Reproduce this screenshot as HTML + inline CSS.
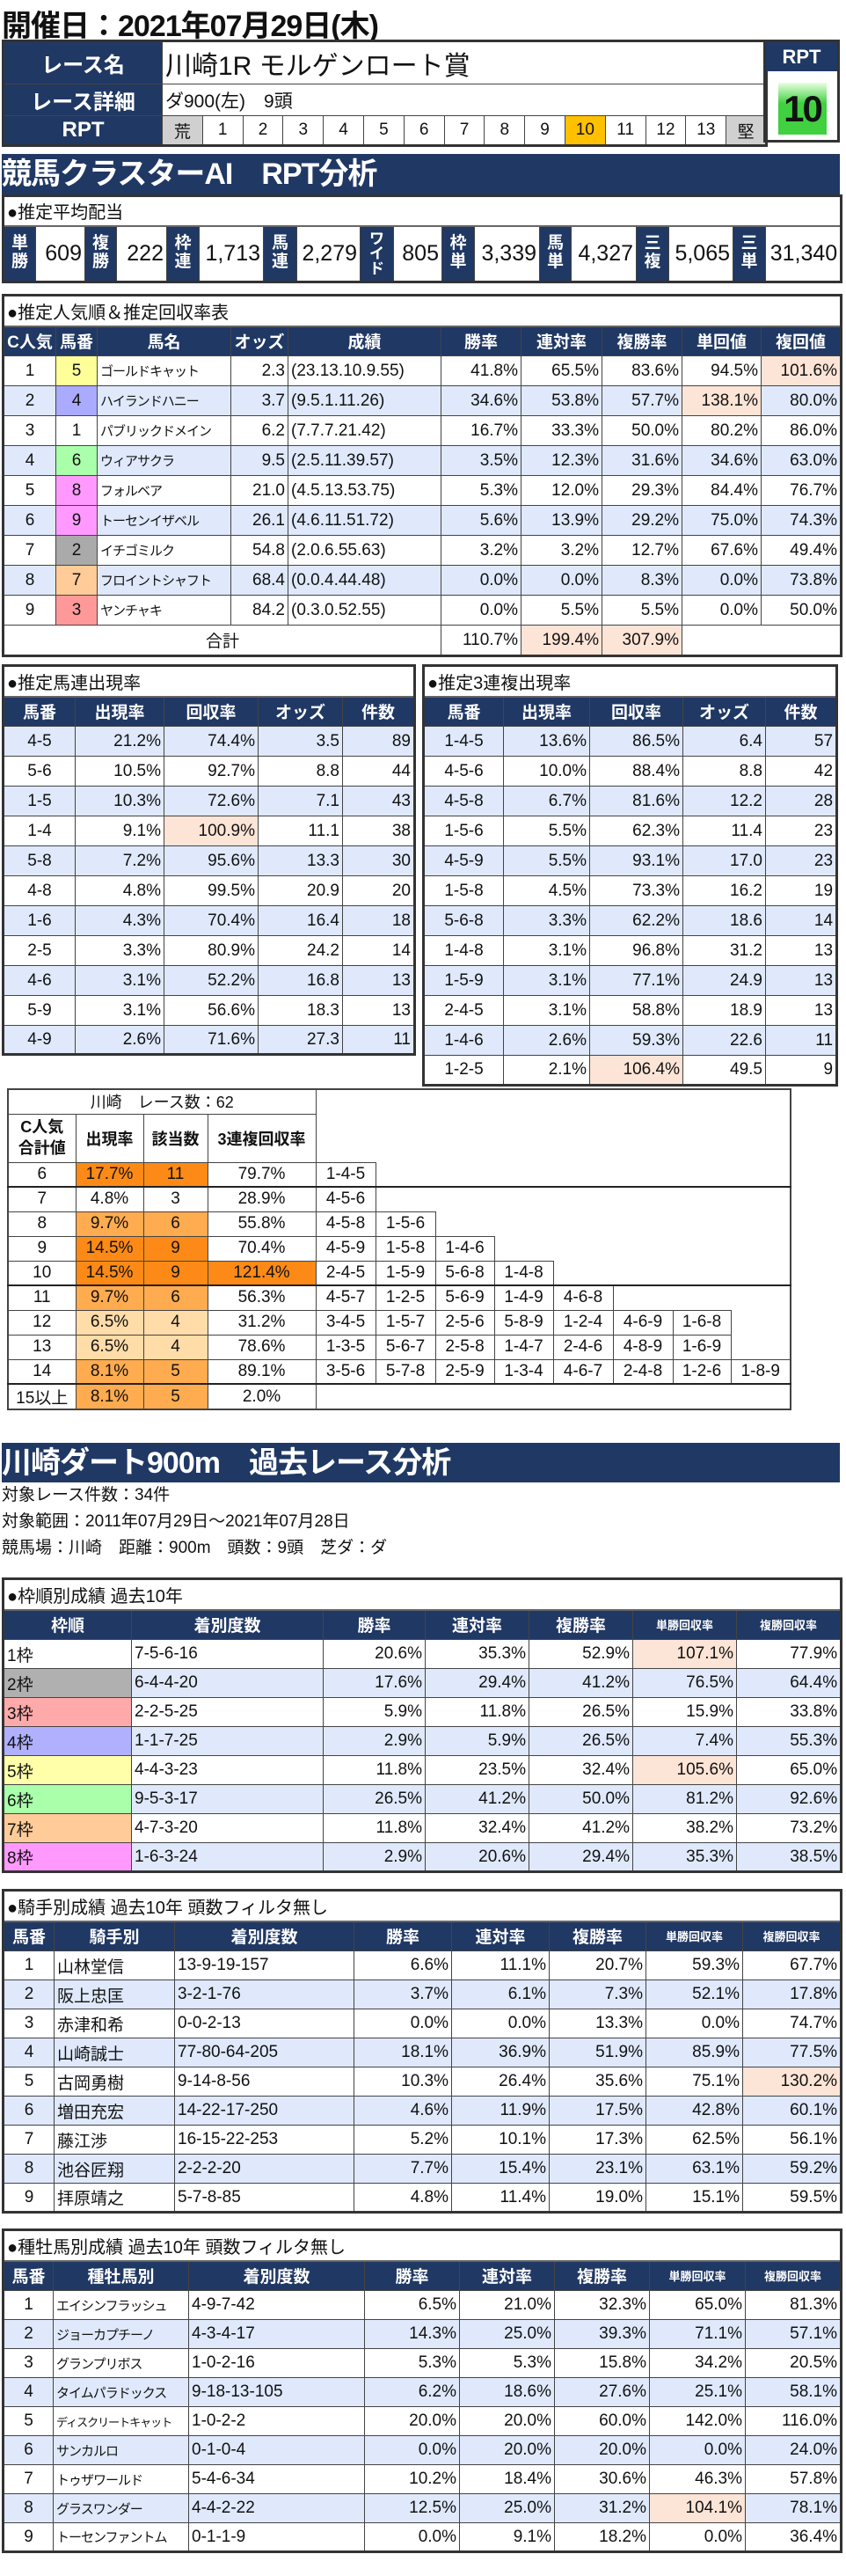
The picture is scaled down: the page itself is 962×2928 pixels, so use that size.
<!DOCTYPE html>
<html><head><meta charset="utf-8">
<style>
body{margin:0;width:962px;height:2928px;position:relative;background:#fff;font-family:"Liberation Sans","Noto Sans CJK JP",sans-serif;color:#111;overflow:hidden}
.a{position:absolute}
table{border-collapse:collapse;table-layout:fixed;position:absolute}
td,th{border:1px solid #444;padding:0 3px;white-space:nowrap;overflow:hidden;font-size:19px;font-weight:normal}
th{background:#203864;color:#fff;font-weight:bold;text-align:center}
.r{text-align:right}.c{text-align:center}.l{text-align:left}
.b td{background:#dfe9fb}
td.pk,.b td.pk{background:#fce4d6}
.t td{font-size:20px;text-align:left;background:#fff;border-bottom:2px solid #666}
.out{border:3px solid #333}
.sec{background:#203864;color:#fff;font-weight:bold;font-size:34px;left:2px;width:953px;line-height:46px;letter-spacing:-1px}
.sm{font-size:13px!important}
.nm{font-size:15px;letter-spacing:-1px}
td.o1{background:#fd8a16}td.o2{background:#ffab4f}td.o3{background:#ffdca8}
.cl td.e{border:none}
</style></head><body>
<div class="a" style="left:2px;top:2px;font-size:34px;font-weight:bold;letter-spacing:-1px">開催日：2021年07月29日(木)</div>

<table class="out" style="left:2px;top:45px;width:868px">
<colgroup><col style="width:181px"><col span="15" style="width:45.8px"></colgroup>
<tr style="height:49px"><th style="font-size:24px">レース名</th><td colspan="15" style="font-size:30px">川崎1R モルゲンロート賞</td></tr>
<tr style="height:34px"><th style="font-size:24px">レース詳細</th><td colspan="15" style="font-size:21px">ダ900(左)　9頭</td></tr>
<tr style="height:34px"><th style="font-size:24px">RPT</th><td class="c" style="background:#d0d0d0">荒</td><td class="c">1</td><td class="c">2</td><td class="c">3</td><td class="c">4</td><td class="c">5</td><td class="c">6</td><td class="c">7</td><td class="c">8</td><td class="c">9</td><td class="c" style="background:#ffc000">10</td><td class="c">11</td><td class="c">12</td><td class="c">13</td><td class="c" style="background:#d0d0d0">堅</td></tr>
</table>
<div class="a" style="left:868px;top:45px;width:87px;height:117px;border:3px solid #333;box-sizing:border-box">
<div style="background:#203864;color:#fff;font-weight:bold;font-size:22px;text-align:center;height:33px;line-height:33px">RPT</div>
<div class="a" style="left:14px;top:46px;width:55px;height:59px;background:linear-gradient(#e8ffe0,#40d040 40%,#40d040);font-weight:bold;font-size:42px;text-align:center;line-height:60px;letter-spacing:-2px">10</div>
</div>

<div class="a sec" style="top:175px;height:46px">競馬クラスターAI　RPT分析</div>

<table class="out" style="left:2px;top:221px;width:953px">
<colgroup><col style="width:37px"><col style="width:56px"><col style="width:36px"><col style="width:57px"><col style="width:37px"><col style="width:73px"><col style="width:38px"><col style="width:72px"><col style="width:38px"><col style="width:55px"><col style="width:37px"><col style="width:74px"><col style="width:36px"><col style="width:74px"><col style="width:37px"><col style="width:73px"><col style="width:37px"><col style="width:86px"></colgroup>
<tr class="t" style="height:34px"><td colspan="18">●推定平均配当</td></tr>
<tr style="height:64px">
<th style="line-height:1.1;font-size:19px">単<br>勝</th><td class="r" style="font-size:25px">609</td>
<th style="line-height:1.1;font-size:19px">複<br>勝</th><td class="r" style="font-size:25px">222</td>
<th style="line-height:1.1;font-size:19px">枠<br>連</th><td class="r" style="font-size:25px">1,713</td>
<th style="line-height:1.1;font-size:19px">馬<br>連</th><td class="r" style="font-size:25px">2,279</td>
<th style="line-height:1;font-size:17px">ワ<br>イ<br>ド</th><td class="r" style="font-size:25px">805</td>
<th style="line-height:1.1;font-size:19px">枠<br>単</th><td class="r" style="font-size:25px">3,339</td>
<th style="line-height:1.1;font-size:19px">馬<br>単</th><td class="r" style="font-size:25px">4,327</td>
<th style="line-height:1.1;font-size:19px">三<br>複</th><td class="r" style="font-size:25px">5,065</td>
<th style="line-height:1.1;font-size:19px">三<br>単</th><td class="r" style="font-size:25px">31,340</td></tr>
</table>

<table class="out" style="left:2px;top:334px;width:953px">
<colgroup><col style="width:60px"><col style="width:47px"><col style="width:152px"><col style="width:65px"><col style="width:174px"><col style="width:91px"><col style="width:92px"><col style="width:91px"><col style="width:90px"><col style="width:91px"></colgroup>
<tr class="t" style="height:35px"><td colspan="10">●推定人気順＆推定回収率表</td></tr>
<tr style="height:34px"><th style="padding:0">C人気</th><th style="padding:0">馬番</th><th>馬名</th><th>オッズ</th><th>成績</th><th>勝率</th><th>連対率</th><th>複勝率</th><th>単回値</th><th>複回値</th></tr>
<tr style="height:34px"><td class="c">1</td><td class="c" style="background:#ffff99">5</td><td class="nm">ゴールドキャット</td><td class="r">2.3</td><td>(23.13.10.9.55)</td><td class="r">41.8%</td><td class="r">65.5%</td><td class="r">83.6%</td><td class="r">94.5%</td><td class="r pk">101.6%</td></tr>
<tr class="b" style="height:34px"><td class="c">2</td><td class="c" style="background:#aaaaff">4</td><td class="nm">ハイランドハニー</td><td class="r">3.7</td><td>(9.5.1.11.26)</td><td class="r">34.6%</td><td class="r">53.8%</td><td class="r">57.7%</td><td class="r pk">138.1%</td><td class="r">80.0%</td></tr>
<tr style="height:34px"><td class="c">3</td><td class="c">1</td><td class="nm">パブリックドメイン</td><td class="r">6.2</td><td>(7.7.7.21.42)</td><td class="r">16.7%</td><td class="r">33.3%</td><td class="r">50.0%</td><td class="r">80.2%</td><td class="r">86.0%</td></tr>
<tr class="b" style="height:34px"><td class="c">4</td><td class="c" style="background:#aaffaa">6</td><td class="nm">ウィアサクラ</td><td class="r">9.5</td><td>(2.5.11.39.57)</td><td class="r">3.5%</td><td class="r">12.3%</td><td class="r">31.6%</td><td class="r">34.6%</td><td class="r">63.0%</td></tr>
<tr style="height:34px"><td class="c">5</td><td class="c" style="background:#ff99ff">8</td><td class="nm">フォルベア</td><td class="r">21.0</td><td>(4.5.13.53.75)</td><td class="r">5.3%</td><td class="r">12.0%</td><td class="r">29.3%</td><td class="r">84.4%</td><td class="r">76.7%</td></tr>
<tr class="b" style="height:34px"><td class="c">6</td><td class="c" style="background:#ff99ff">9</td><td class="nm">トーセンイザベル</td><td class="r">26.1</td><td>(4.6.11.51.72)</td><td class="r">5.6%</td><td class="r">13.9%</td><td class="r">29.2%</td><td class="r">75.0%</td><td class="r">74.3%</td></tr>
<tr style="height:34px"><td class="c">7</td><td class="c" style="background:#aaaaaa">2</td><td class="nm">イチゴミルク</td><td class="r">54.8</td><td>(2.0.6.55.63)</td><td class="r">3.2%</td><td class="r">3.2%</td><td class="r">12.7%</td><td class="r">67.6%</td><td class="r">49.4%</td></tr>
<tr class="b" style="height:34px"><td class="c">8</td><td class="c" style="background:#ffcc99">7</td><td class="nm">フロイントシャフト</td><td class="r">68.4</td><td>(0.0.4.44.48)</td><td class="r">0.0%</td><td class="r">0.0%</td><td class="r">8.3%</td><td class="r">0.0%</td><td class="r">73.8%</td></tr>
<tr style="height:34px"><td class="c">9</td><td class="c" style="background:#ff9999">3</td><td class="nm">ヤンチャキ</td><td class="r">84.2</td><td>(0.3.0.52.55)</td><td class="r">0.0%</td><td class="r">5.5%</td><td class="r">5.5%</td><td class="r">0.0%</td><td class="r">50.0%</td></tr>
<tr style="height:35px"><td colspan="5" class="c">合計</td><td class="r">110.7%</td><td class="r pk">199.4%</td><td class="r pk">307.9%</td><td colspan="2"></td></tr>
</table>

<table class="out" style="left:2px;top:755px;width:468px">
<colgroup><col style="width:82px"><col style="width:101px"><col style="width:107px"><col style="width:96px"><col style="width:82px"></colgroup>
<tr class="t" style="height:35px"><td colspan="5">●推定馬連出現率</td></tr>
<tr style="height:34px"><th>馬番</th><th>出現率</th><th>回収率</th><th>オッズ</th><th>件数</th></tr>
<tr class="b" style="height:34px"><td class="c">4-5</td><td class="r">21.2%</td><td class="r">74.4%</td><td class="r">3.5</td><td class="r">89</td></tr>
<tr style="height:34px"><td class="c">5-6</td><td class="r">10.5%</td><td class="r">92.7%</td><td class="r">8.8</td><td class="r">44</td></tr>
<tr class="b" style="height:34px"><td class="c">1-5</td><td class="r">10.3%</td><td class="r">72.6%</td><td class="r">7.1</td><td class="r">43</td></tr>
<tr style="height:34px"><td class="c">1-4</td><td class="r">9.1%</td><td class="r pk">100.9%</td><td class="r">11.1</td><td class="r">38</td></tr>
<tr class="b" style="height:34px"><td class="c">5-8</td><td class="r">7.2%</td><td class="r">95.6%</td><td class="r">13.3</td><td class="r">30</td></tr>
<tr style="height:34px"><td class="c">4-8</td><td class="r">4.8%</td><td class="r">99.5%</td><td class="r">20.9</td><td class="r">20</td></tr>
<tr class="b" style="height:34px"><td class="c">1-6</td><td class="r">4.3%</td><td class="r">70.4%</td><td class="r">16.4</td><td class="r">18</td></tr>
<tr style="height:34px"><td class="c">2-5</td><td class="r">3.3%</td><td class="r">80.9%</td><td class="r">24.2</td><td class="r">14</td></tr>
<tr class="b" style="height:34px"><td class="c">4-6</td><td class="r">3.1%</td><td class="r">52.2%</td><td class="r">16.8</td><td class="r">13</td></tr>
<tr style="height:34px"><td class="c">5-9</td><td class="r">3.1%</td><td class="r">56.6%</td><td class="r">18.3</td><td class="r">13</td></tr>
<tr class="b" style="height:33px"><td class="c">4-9</td><td class="r">2.6%</td><td class="r">71.6%</td><td class="r">27.3</td><td class="r">11</td></tr>
</table>

<table class="out" style="left:480px;top:755px;width:470px">
<colgroup><col style="width:91px"><col style="width:98px"><col style="width:106px"><col style="width:94px"><col style="width:81px"></colgroup>
<tr class="t" style="height:35px"><td colspan="5">●推定3連複出現率</td></tr>
<tr style="height:34px"><th>馬番</th><th>出現率</th><th>回収率</th><th>オッズ</th><th>件数</th></tr>
<tr class="b" style="height:34px"><td class="c">1-4-5</td><td class="r">13.6%</td><td class="r">86.5%</td><td class="r">6.4</td><td class="r">57</td></tr>
<tr style="height:34px"><td class="c">4-5-6</td><td class="r">10.0%</td><td class="r">88.4%</td><td class="r">8.8</td><td class="r">42</td></tr>
<tr class="b" style="height:34px"><td class="c">4-5-8</td><td class="r">6.7%</td><td class="r">81.6%</td><td class="r">12.2</td><td class="r">28</td></tr>
<tr style="height:34px"><td class="c">1-5-6</td><td class="r">5.5%</td><td class="r">62.3%</td><td class="r">11.4</td><td class="r">23</td></tr>
<tr class="b" style="height:34px"><td class="c">4-5-9</td><td class="r">5.5%</td><td class="r">93.1%</td><td class="r">17.0</td><td class="r">23</td></tr>
<tr style="height:34px"><td class="c">1-5-8</td><td class="r">4.5%</td><td class="r">73.3%</td><td class="r">16.2</td><td class="r">19</td></tr>
<tr class="b" style="height:34px"><td class="c">5-6-8</td><td class="r">3.3%</td><td class="r">62.2%</td><td class="r">18.6</td><td class="r">14</td></tr>
<tr style="height:34px"><td class="c">1-4-8</td><td class="r">3.1%</td><td class="r">96.8%</td><td class="r">31.2</td><td class="r">13</td></tr>
<tr class="b" style="height:34px"><td class="c">1-5-9</td><td class="r">3.1%</td><td class="r">77.1%</td><td class="r">24.9</td><td class="r">13</td></tr>
<tr style="height:34px"><td class="c">2-4-5</td><td class="r">3.1%</td><td class="r">58.8%</td><td class="r">18.9</td><td class="r">13</td></tr>
<tr class="b" style="height:34px"><td class="c">1-4-6</td><td class="r">2.6%</td><td class="r">59.3%</td><td class="r">22.6</td><td class="r">11</td></tr>
<tr style="height:34px"><td class="c">1-2-5</td><td class="r">2.1%</td><td class="r pk">106.4%</td><td class="r">49.5</td><td class="r">9</td></tr>
</table>

<table class="cl" style="left:8px;top:1237px;width:890px;border:2px solid #444">
<colgroup><col style="width:77px"><col style="width:77px"><col style="width:73px"><col style="width:123px"><col style="width:68px"><col style="width:68px"><col style="width:67px"><col style="width:67px"><col style="width:68px"><col style="width:68px"><col style="width:66px"><col style="width:68px"></colgroup>
<tr style="height:28px"><td colspan="4" class="c" style="font-size:18px">川崎　レース数：62</td><td class="e" colspan="8"></td></tr>
<tr style="height:55px;font-weight:bold"><td class="c" style="font-weight:bold;line-height:1.3;font-size:18px">C人気<br>合計値</td><td class="c" style="font-weight:bold;font-size:18px">出現率</td><td class="c" style="font-weight:bold;font-size:18px">該当数</td><td class="c" style="font-weight:bold;font-size:18px">3連複回収率</td><td class="e" colspan="8"></td></tr>
<tr style="height:28px;border-bottom:2px solid #222"><td class="c">6</td><td class="c o1">17.7%</td><td class="c o1">11</td><td class="c">79.7%</td><td class="c">1-4-5</td><td class="e" colspan="7"></td></tr>
<tr style="height:28px"><td class="c">7</td><td class="c">4.8%</td><td class="c">3</td><td class="c">28.9%</td><td class="c">4-5-6</td><td class="e" colspan="7"></td></tr>
<tr style="height:28px"><td class="c">8</td><td class="c o2">9.7%</td><td class="c o2">6</td><td class="c">55.8%</td><td class="c">4-5-8</td><td class="c">1-5-6</td><td class="e" colspan="6"></td></tr>
<tr style="height:28px"><td class="c">9</td><td class="c o1">14.5%</td><td class="c o1">9</td><td class="c">70.4%</td><td class="c">4-5-9</td><td class="c">1-5-8</td><td class="c">1-4-6</td><td class="e" colspan="5"></td></tr>
<tr style="height:28px;border-bottom:2px solid #222"><td class="c">10</td><td class="c o1">14.5%</td><td class="c o1">9</td><td class="c o1">121.4%</td><td class="c">2-4-5</td><td class="c">1-5-9</td><td class="c">5-6-8</td><td class="c">1-4-8</td><td class="e" colspan="4"></td></tr>
<tr style="height:28px"><td class="c">11</td><td class="c o2">9.7%</td><td class="c o2">6</td><td class="c">56.3%</td><td class="c">4-5-7</td><td class="c">1-2-5</td><td class="c">5-6-9</td><td class="c">1-4-9</td><td class="c">4-6-8</td><td class="e" colspan="3"></td></tr>
<tr style="height:28px"><td class="c">12</td><td class="c o3">6.5%</td><td class="c o3">4</td><td class="c">31.2%</td><td class="c">3-4-5</td><td class="c">1-5-7</td><td class="c">2-5-6</td><td class="c">5-8-9</td><td class="c">1-2-4</td><td class="c">4-6-9</td><td class="c">1-6-8</td><td class="e"></td></tr>
<tr style="height:28px"><td class="c">13</td><td class="c o3">6.5%</td><td class="c o3">4</td><td class="c">78.6%</td><td class="c">1-3-5</td><td class="c">5-6-7</td><td class="c">2-5-8</td><td class="c">1-4-7</td><td class="c">2-4-6</td><td class="c">4-8-9</td><td class="c">1-6-9</td><td class="e"></td></tr>
<tr style="height:28px;border-bottom:2px solid #222"><td class="c">14</td><td class="c o2">8.1%</td><td class="c o2">5</td><td class="c">89.1%</td><td class="c">3-5-6</td><td class="c">5-7-8</td><td class="c">2-5-9</td><td class="c">1-3-4</td><td class="c">4-6-7</td><td class="c">2-4-8</td><td class="c">1-2-6</td><td class="c">1-8-9</td></tr>
<tr style="height:28px"><td class="c">15以上</td><td class="c o2">8.1%</td><td class="c o2">5</td><td class="c">2.0%</td><td class="e" colspan="8"></td></tr>
</table>

<div class="a sec" style="top:1640px;height:45px">川崎ダート900m　過去レース分析</div>
<div class="a" style="left:2px;top:1685px;font-size:19px;line-height:30px">対象レース件数：34件<br>対象範囲：2011年07月29日～2021年07月28日<br>競馬場：川崎　距離：900m　頭数：9頭　芝ダ：ダ</div>

<table class="out" style="left:2px;top:1793px;width:953px">
<colgroup><col style="width:146px"><col style="width:218px"><col style="width:116px"><col style="width:118px"><col style="width:118px"><col style="width:118px"><col style="width:119px"></colgroup>
<tr class="t" style="height:35px"><td colspan="7">●枠順別成績 過去10年</td></tr>
<tr style="height:34px"><th>枠順</th><th>着別度数</th><th>勝率</th><th>連対率</th><th>複勝率</th><th class="sm">単勝回収率</th><th class="sm">複勝回収率</th></tr>
<tr style="height:33px"><td>1枠</td><td>7-5-6-16</td><td class="r">20.6%</td><td class="r">35.3%</td><td class="r">52.9%</td><td class="r pk">107.1%</td><td class="r">77.9%</td></tr>
<tr class="b" style="height:33px"><td style="background:#b0b0b0">2枠</td><td>6-4-4-20</td><td class="r">17.6%</td><td class="r">29.4%</td><td class="r">41.2%</td><td class="r">76.5%</td><td class="r">64.4%</td></tr>
<tr style="height:33px"><td style="background:#ffaaaa">3枠</td><td>2-2-5-25</td><td class="r">5.9%</td><td class="r">11.8%</td><td class="r">26.5%</td><td class="r">15.9%</td><td class="r">33.8%</td></tr>
<tr class="b" style="height:33px"><td style="background:#b0b0ff">4枠</td><td>1-1-7-25</td><td class="r">2.9%</td><td class="r">5.9%</td><td class="r">26.5%</td><td class="r">7.4%</td><td class="r">55.3%</td></tr>
<tr style="height:33px"><td style="background:#ffffaa">5枠</td><td>4-4-3-23</td><td class="r">11.8%</td><td class="r">23.5%</td><td class="r">32.4%</td><td class="r pk">105.6%</td><td class="r">65.0%</td></tr>
<tr class="b" style="height:33px"><td style="background:#aaffaa">6枠</td><td>9-5-3-17</td><td class="r">26.5%</td><td class="r">41.2%</td><td class="r">50.0%</td><td class="r">81.2%</td><td class="r">92.6%</td></tr>
<tr style="height:33px"><td style="background:#ffcc99">7枠</td><td>4-7-3-20</td><td class="r">11.8%</td><td class="r">32.4%</td><td class="r">41.2%</td><td class="r">38.2%</td><td class="r">73.2%</td></tr>
<tr class="b" style="height:33px"><td style="background:#ff99ff">8枠</td><td>1-6-3-24</td><td class="r">2.9%</td><td class="r">20.6%</td><td class="r">29.4%</td><td class="r">35.3%</td><td class="r">38.5%</td></tr>
</table>

<table class="out" style="left:2px;top:2147px;width:953px">
<colgroup><col style="width:58px"><col style="width:137px"><col style="width:204px"><col style="width:111px"><col style="width:111px"><col style="width:110px"><col style="width:110px"><col style="width:112px"></colgroup>
<tr class="t" style="height:35px"><td colspan="8">●騎手別成績 過去10年 頭数フィルタ無し</td></tr>
<tr style="height:34px"><th>馬番</th><th>騎手別</th><th>着別度数</th><th>勝率</th><th>連対率</th><th>複勝率</th><th class="sm">単勝回収率</th><th class="sm">複勝回収率</th></tr>
<tr style="height:33px"><td class="c">1</td><td>山林堂信</td><td>13-9-19-157</td><td class="r">6.6%</td><td class="r">11.1%</td><td class="r">20.7%</td><td class="r">59.3%</td><td class="r">67.7%</td></tr>
<tr class="b" style="height:33px"><td class="c">2</td><td>阪上忠匡</td><td>3-2-1-76</td><td class="r">3.7%</td><td class="r">6.1%</td><td class="r">7.3%</td><td class="r">52.1%</td><td class="r">17.8%</td></tr>
<tr style="height:33px"><td class="c">3</td><td>赤津和希</td><td>0-0-2-13</td><td class="r">0.0%</td><td class="r">0.0%</td><td class="r">13.3%</td><td class="r">0.0%</td><td class="r">74.7%</td></tr>
<tr class="b" style="height:33px"><td class="c">4</td><td>山崎誠士</td><td>77-80-64-205</td><td class="r">18.1%</td><td class="r">36.9%</td><td class="r">51.9%</td><td class="r">85.9%</td><td class="r">77.5%</td></tr>
<tr style="height:33px"><td class="c">5</td><td>古岡勇樹</td><td>9-14-8-56</td><td class="r">10.3%</td><td class="r">26.4%</td><td class="r">35.6%</td><td class="r">75.1%</td><td class="r pk">130.2%</td></tr>
<tr class="b" style="height:33px"><td class="c">6</td><td>増田充宏</td><td>14-22-17-250</td><td class="r">4.6%</td><td class="r">11.9%</td><td class="r">17.5%</td><td class="r">42.8%</td><td class="r">60.1%</td></tr>
<tr style="height:33px"><td class="c">7</td><td>藤江渉</td><td>16-15-22-253</td><td class="r">5.2%</td><td class="r">10.1%</td><td class="r">17.3%</td><td class="r">62.5%</td><td class="r">56.1%</td></tr>
<tr class="b" style="height:33px"><td class="c">8</td><td>池谷匠翔</td><td>2-2-2-20</td><td class="r">7.7%</td><td class="r">15.4%</td><td class="r">23.1%</td><td class="r">63.1%</td><td class="r">59.2%</td></tr>
<tr style="height:33px"><td class="c">9</td><td>拝原靖之</td><td>5-7-8-85</td><td class="r">4.8%</td><td class="r">11.4%</td><td class="r">19.0%</td><td class="r">15.1%</td><td class="r">59.5%</td></tr>
</table>

<table class="out" style="left:2px;top:2533px;width:953px">
<colgroup><col style="width:57px"><col style="width:154px"><col style="width:200px"><col style="width:108px"><col style="width:108px"><col style="width:108px"><col style="width:109px"><col style="width:109px"></colgroup>
<tr class="t" style="height:35px"><td colspan="8">●種牡馬別成績 過去10年 頭数フィルタ無し</td></tr>
<tr style="height:34px"><th>馬番</th><th>種牡馬別</th><th>着別度数</th><th>勝率</th><th>連対率</th><th>複勝率</th><th class="sm">単勝回収率</th><th class="sm">複勝回収率</th></tr>
<tr style="height:33px"><td class="c">1</td><td class="nm">エイシンフラッシュ</td><td>4-9-7-42</td><td class="r">6.5%</td><td class="r">21.0%</td><td class="r">32.3%</td><td class="r">65.0%</td><td class="r">81.3%</td></tr>
<tr class="b" style="height:33px"><td class="c">2</td><td class="nm">ジョーカプチーノ</td><td>4-3-4-17</td><td class="r">14.3%</td><td class="r">25.0%</td><td class="r">39.3%</td><td class="r">71.1%</td><td class="r">57.1%</td></tr>
<tr style="height:33px"><td class="c">3</td><td class="nm">グランプリボス</td><td>1-0-2-16</td><td class="r">5.3%</td><td class="r">5.3%</td><td class="r">15.8%</td><td class="r">34.2%</td><td class="r">20.5%</td></tr>
<tr class="b" style="height:33px"><td class="c">4</td><td class="nm">タイムパラドックス</td><td>9-18-13-105</td><td class="r">6.2%</td><td class="r">18.6%</td><td class="r">27.6%</td><td class="r">25.1%</td><td class="r">58.1%</td></tr>
<tr style="height:33px"><td class="c">5</td><td class="nm" style="font-size:13px">ディスクリートキャット</td><td>1-0-2-2</td><td class="r">20.0%</td><td class="r">20.0%</td><td class="r">60.0%</td><td class="r">142.0%</td><td class="r">116.0%</td></tr>
<tr class="b" style="height:33px"><td class="c">6</td><td class="nm">サンカルロ</td><td>0-1-0-4</td><td class="r">0.0%</td><td class="r">20.0%</td><td class="r">20.0%</td><td class="r">0.0%</td><td class="r">24.0%</td></tr>
<tr style="height:33px"><td class="c">7</td><td class="nm">トゥザワールド</td><td>5-4-6-34</td><td class="r">10.2%</td><td class="r">18.4%</td><td class="r">30.6%</td><td class="r">46.3%</td><td class="r">57.8%</td></tr>
<tr class="b" style="height:33px"><td class="c">8</td><td class="nm">グラスワンダー</td><td>4-4-2-22</td><td class="r">12.5%</td><td class="r">25.0%</td><td class="r">31.2%</td><td class="r pk">104.1%</td><td class="r">78.1%</td></tr>
<tr style="height:33px"><td class="c">9</td><td class="nm">トーセンファントム</td><td>0-1-1-9</td><td class="r">0.0%</td><td class="r">9.1%</td><td class="r">18.2%</td><td class="r">0.0%</td><td class="r">36.4%</td></tr>
</table>
</body></html>
